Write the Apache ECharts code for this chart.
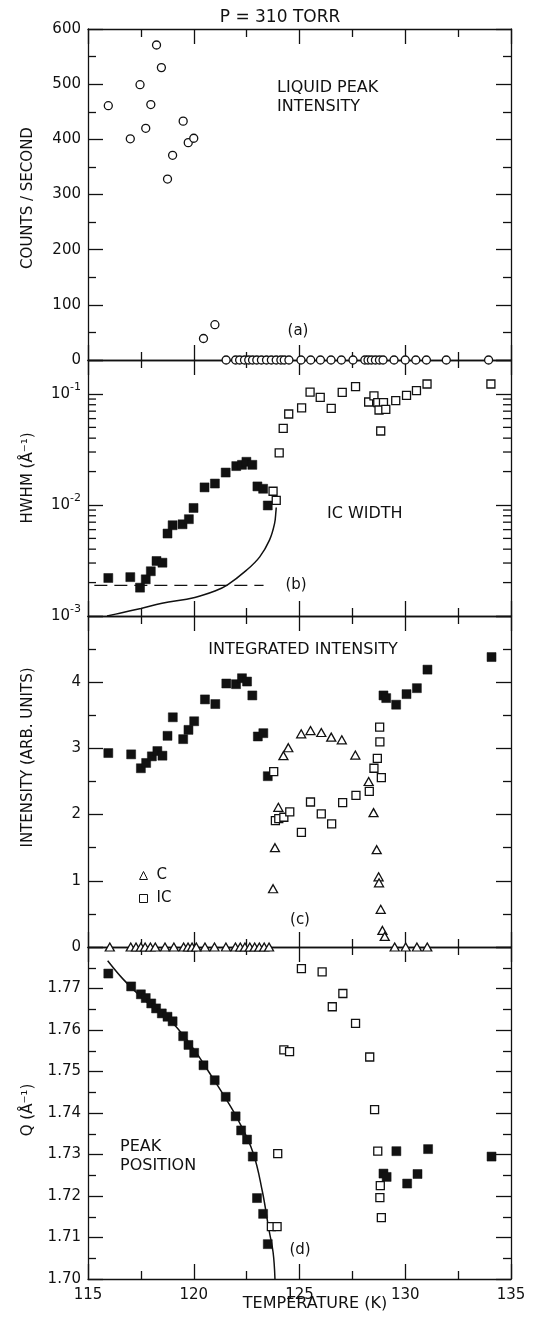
<!DOCTYPE html>
<html><head><meta charset="utf-8">
<script src="https://cdn.jsdelivr.net/npm/echarts@6/dist/echarts.min.js"></script>
<style>html,body{margin:0;padding:0;background:#fff}#c{width:538px;height:1326px}</style>
</head><body><div id="c"></div>
<script>
// ---------- DATA ----------
const liquidT = [115.96,117.0,117.46,117.73,117.97,118.24,118.47,118.76,119.0,119.5,119.74,120.0,120.46,121.0,
  121.53,121.98,122.17,122.4,122.6,122.78,122.98,123.2,123.44,123.67,123.9,124.12,124.28,124.5,125.07,125.53,
  125.99,126.49,126.98,127.53,128.09,128.24,128.4,128.59,128.78,128.95,129.47,130.0,130.5,131.0,131.94,133.94];
const liquidI = [461,401,499,420,463,571,530,328,371,433,394,402,39,64,
  0,0,0,0,0,0,0,0,0,0,0,0,0,0,0,0,0,0,0,0,0,0,0,0,0,0,0,0,0,0,0,0];
const widthSolidT = [115.96,117.0,117.46,117.73,117.97,118.24,118.52,118.76,119.0,119.47,119.77,119.99,120.51,121.0,121.51,122.01,122.28,122.49,122.77,123.01,123.28,123.5];
const widthSolidV = [0.00220,0.00224,0.00180,0.00214,0.00253,0.00313,0.00302,0.00553,0.00657,0.00670,0.00745,0.0094,0.0144,0.0156,0.0196,0.0224,0.0230,0.0245,0.0230,0.0147,0.0140,0.0099];
const widthICT = [123.75,123.9,124.04,124.23,124.49,125.1,125.5,125.98,126.5,127.02,127.65,128.27,128.52,128.7,128.97,128.76,129.08,128.84,129.55,130.06,130.53,131.03,134.05];
const widthICV = [0.0133,0.0110,0.0295,0.049,0.066,0.0748,0.104,0.0933,0.0743,0.1035,0.1165,0.0847,0.096,0.0835,0.0835,0.0717,0.0728,0.0464,0.087,0.0973,0.107,0.123,0.123];
const widthCurveT = [115.9,116.5,117.5,118.5,120.05,121.0,121.58,122.5,123.12,123.58,123.82,123.89,123.9];
const widthCurveV = [0.00100,0.00106,0.00117,0.00130,0.00147,0.00168,0.00190,0.00259,0.00341,0.00482,0.00679,0.00895,0.0095];
const resolutionT = [115.3,123.3];
const resolutionV = [0.00189,0.00189];
const logMinorTicks = [0.002,0.003,0.004,0.005,0.006,0.007,0.008,0.009,0.02,0.03,0.04,0.05,0.06,0.07,0.08,0.09];
const intSolidT = [115.96,117.04,117.5,117.75,118.02,118.28,118.52,118.76,119.01,119.5,119.75,120.02,120.53,121.02,121.54,122.0,122.28,122.52,122.77,123.03,123.29,123.5,128.97,129.1,129.57,130.06,130.55,131.05,134.08];
const intSolidV = [2.93,2.91,2.70,2.78,2.88,2.96,2.89,3.19,3.47,3.14,3.28,3.41,3.74,3.67,3.98,3.97,4.06,4.01,3.80,3.18,3.23,2.58,3.80,3.76,3.66,3.82,3.91,4.19,4.38];
const intCT = [116.03,117.02,117.27,117.5,117.7,117.95,118.18,118.64,119.06,119.52,119.73,119.92,120.12,120.53,120.98,121.52,121.97,122.2,122.42,122.65,122.88,123.1,123.33,123.56,
  123.75,123.84,124.0,124.24,124.47,125.08,125.52,126.03,126.5,127.0,127.64,128.27,128.5,128.65,128.74,128.76,128.84,128.92,129.03,
  129.5,130.02,130.55,131.04];
const intCV = [0,0,0,0,0,0,0,0,0,0,0,0,0,0,0,0,0,0,0,0,0,0,0,0,
  0.88,1.50,2.11,2.89,3.01,3.22,3.27,3.24,3.17,3.13,2.90,2.50,2.03,1.47,1.06,0.97,0.57,0.25,0.16,
  0,0,0,0];
const intICT = [123.78,123.86,124.02,124.26,124.54,125.09,125.52,126.03,126.52,127.04,127.67,128.3,128.52,128.68,128.87,128.8,128.79];
const intICV = [2.65,1.91,1.94,1.96,2.04,1.73,2.19,2.01,1.86,2.18,2.29,2.35,2.70,2.85,2.56,3.10,3.32];
const qSolidT = [115.96,117.04,117.5,117.73,117.99,118.22,118.49,118.76,119.0,119.5,119.75,120.02,120.46,120.99,121.51,121.98,122.24,122.52,122.79,122.99,123.28,123.5,128.97,129.12,129.58,130.09,130.58,131.08,134.08];
const qSolidV = [1.7736,1.7705,1.7686,1.7677,1.7664,1.7652,1.7640,1.7632,1.7621,1.7585,1.7564,1.7545,1.7515,1.7479,1.7439,1.7392,1.7358,1.7336,1.7295,1.7195,1.7157,1.7084,1.7254,1.7246,1.7308,1.7230,1.7253,1.7313,1.7295];
const qICT = [123.67,123.94,123.97,124.26,124.53,125.09,126.07,126.55,127.05,127.65,128.32,128.55,128.7,128.82,128.8,128.87];
const qICV = [1.7126,1.7126,1.7302,1.7552,1.7548,1.7748,1.7740,1.7656,1.7688,1.7616,1.7535,1.7408,1.7308,1.7225,1.7196,1.7148];
const qCurveT = [115.93,116.67,117.5,118.5,119.04,120.0,120.7,121.5,122.08,122.8,123.24,123.55,123.75,123.84];
const qCurveV = [1.7767,1.7722,1.7680,1.7636,1.7615,1.7554,1.7500,1.7436,1.7385,1.7305,1.7212,1.7120,1.7065,1.7000];
const xTickLabels = ['115','120','125','130','135'];
const yNames = ['COUNTS / SECOND', 'HWHM (Å⁻¹)', 'INTENSITY (ARB. UNITS)', 'Q (Å⁻¹)'];

// ---------- CHART ----------
const INK = '#111';
const FONT = 'DejaVu Sans';
const zip = (a, b) => a.map((v, i) => [v, b[i]]);
const GL = 88, GR = 27;
const grids = [
  {left: GL, right: GR, top: 29, height: 331},
  {left: GL, right: GR, top: 360, height: 256},
  {left: GL, right: GR, top: 616, height: 331},
  {left: GL, right: GR, top: 947, height: 332}
];
const ls = () => ({color: INK, width: 1.3});

function xAx(gi, pos, labels) {
  return {
    type: 'value', gridIndex: gi, position: pos, min: 115, max: 135, interval: 5,
    axisLine: {show: true, onZero: false, lineStyle: ls()},
    axisTick: {show: true, inside: true, length: 15, lineStyle: ls()},
    minorTick: {show: true, splitNumber: 2, length: 8, lineStyle: ls()},
    axisLabel: {show: labels, color: INK, fontSize: 15, fontFamily: FONT, margin: 9,
      formatter: v => xTickLabels[Math.round((v - 115) / 5)] || ''},
    splitLine: {show: false}, minorSplitLine: {show: false}
  };
}
function yAx(gi, pos, o) {
  const base = {
    type: o.type || 'value', gridIndex: gi, position: pos,
    axisLine: {show: true, onZero: false, lineStyle: ls()},
    axisTick: {show: true, inside: true, length: 15, lineStyle: ls()},
    axisLabel: {show: pos === 'left', color: INK, fontSize: 15, fontFamily: FONT, margin: 7},
    splitLine: {show: false}, minorSplitLine: {show: false}
  };
  if (pos === 'left') {
    Object.assign(base, {name: yNames[gi], nameLocation: 'middle', nameRotate: 90, nameGap: 52,
      nameTextStyle: {color: INK, fontSize: 15, fontFamily: FONT, padding: o.namePad || 0}});
  }
  if (o.type === 'log') {
    Object.assign(base, {logBase: 10, min: o.min, max: o.max, minorTick: {show: false}});
    base.axisLabel.formatter = function (v) {
      const e = Math.log10(v), r = Math.round(e);
      if (Math.abs(e - r) > 1e-6) return '';
      return '{b|10}{s|' + r + '}';
    };
    base.axisLabel.rich = {
      b: {fontSize: 15, fontFamily: FONT, color: INK, lineHeight: 24, verticalAlign: 'middle'},
      s: {fontSize: 11, fontFamily: FONT, color: INK, lineHeight: 24, verticalAlign: 'top'}
    };
  } else {
    Object.assign(base, {min: o.min, max: o.max, interval: o.interval,
      minorTick: {show: true, splitNumber: 2, length: 8, lineStyle: ls()}});
    base.axisLabel.formatter = function (v) {
      if (o.hideMax && Math.abs(v - o.max) < 1e-9) return '';
      return o.fmt ? o.fmt(v) : String(v);
    };
  }
  return base;
}

const xAxis = [];
for (let g = 0; g < 4; g++) {
  xAxis.push(xAx(g, 'bottom', g === 3));
  xAxis.push(xAx(g, 'top', false));
}
const yOpts = [
  {min: 0, max: 600, interval: 100, namePad: [0, 7, 0, 0]},
  {type: 'log', min: 0.001, max: 0.2023, namePad: [0, 0, 0, 20]},
  {min: 0, max: 5, interval: 1, hideMax: true, namePad: [0, 0, 0, 48]},
  {min: 1.70, max: 1.78, interval: 0.01, hideMax: true, fmt: v => v.toFixed(2), namePad: [0, 0, 0, 6]}
];
const yAxis = [];
for (let g = 0; g < 4; g++) {
  yAxis.push(yAx(g, 'left', yOpts[g]));
  yAxis.push(yAx(g, 'right', yOpts[g]));
}

const openSt = () => ({color: '#fff', borderColor: INK, borderWidth: 1.3, opacity: 1});
const solidSt = () => ({color: INK, borderColor: INK, borderWidth: 0.5, opacity: 1});
function sc(g, name, data, symbol, size, style) {
  return {type: 'scatter', name: name, xAxisIndex: 2 * g, yAxisIndex: 2 * g, data: data,
    symbol: symbol, symbolSize: size, itemStyle: style, z: 5};
}

const series = [
  sc(0, 'liquid', zip(liquidT, liquidI), 'circle', 8, openSt()),
  sc(1, 'solid', zip(widthSolidT, widthSolidV), 'rect', 9, solidSt()),
  sc(1, 'IC', zip(widthICT, widthICV), 'rect', 8, openSt()),
  {type: 'line', xAxisIndex: 2, yAxisIndex: 2, data: zip(widthCurveT, widthCurveV), smooth: 0.4,
    showSymbol: false, lineStyle: {color: INK, width: 1.5}, z: 3},
  {type: 'line', xAxisIndex: 2, yAxisIndex: 2, data: zip(resolutionT, resolutionV),
    showSymbol: false, lineStyle: {color: INK, width: 1.3, type: [13, 7]}, z: 3},
  {type: 'custom', xAxisIndex: 2, yAxisIndex: 2, data: logMinorTicks.map(v => [115, v]), z: 2,
    renderItem: function (params, api) {
      const v = api.value(1);
      const a = api.coord([115, v]), b = api.coord([135, v]);
      return {type: 'group', children: [
        {type: 'line', shape: {x1: a[0], y1: a[1], x2: a[0] + 8, y2: a[1]}, style: {stroke: INK, lineWidth: 1.3}},
        {type: 'line', shape: {x1: b[0] - 8, y1: b[1], x2: b[0], y2: b[1]}, style: {stroke: INK, lineWidth: 1.3}}
      ]};
    }},
  sc(2, 'solid', zip(intSolidT, intSolidV), 'rect', 9, solidSt()),
  sc(2, 'C', zip(intCT, intCV), 'triangle', [9, 8], openSt()),
  sc(2, 'IC', zip(intICT, intICV), 'rect', 8, openSt()),
  sc(3, 'solid', zip(qSolidT, qSolidV), 'rect', 9, solidSt()),
  sc(3, 'IC', zip(qICT, qICV), 'rect', 8, openSt()),
  {type: 'line', xAxisIndex: 6, yAxisIndex: 6, data: zip(qCurveT, qCurveV), smooth: 0.4,
    showSymbol: false, lineStyle: {color: INK, width: 1.5}, z: 3}
];

function ttl(text, x, y, align, fs) {
  return {text: text, left: x, top: y, textAlign: align || 'left', padding: 0, itemGap: 0,
    textStyle: {color: INK, fontSize: fs || 16, fontWeight: 'normal', fontFamily: FONT, lineHeight: 19}};
}
const titles = [
  ttl('P = 310 TORR', 280, 8, 'center', 17),
  ttl('LIQUID PEAK\nINTENSITY', 277, 78, 'left', 16),
  ttl('(a)', 298, 322, 'center', 15),
  ttl('IC WIDTH', 327, 504, 'left', 16),
  ttl('(b)', 296, 576, 'center', 15),
  ttl('INTEGRATED INTENSITY', 303, 640, 'center', 16),
  ttl('(c)', 300, 911, 'center', 15),
  ttl('PEAK\nPOSITION', 120, 1137, 'left', 16),
  ttl('(d)', 300, 1241, 'center', 15),
  ttl('TEMPERATURE (K)', 315, 1294, 'center', 16)
];

const chart = echarts.init(document.getElementById('c'));
chart.setOption({
  animation: false,
  title: titles,
  grid: grids,
  xAxis: xAxis,
  yAxis: yAxis,
  legend: {data: ['C', 'IC'], orient: 'vertical', left: 139, top: 868, itemGap: 8, padding: 0,
    itemWidth: 8, itemHeight: 8, itemStyle: {borderWidth: 1},
    textStyle: {fontSize: 15, fontFamily: FONT, color: INK, padding: [0, 0, 0, 4]}, selectedMode: false},
  series: series
});
</script>
</body></html>
